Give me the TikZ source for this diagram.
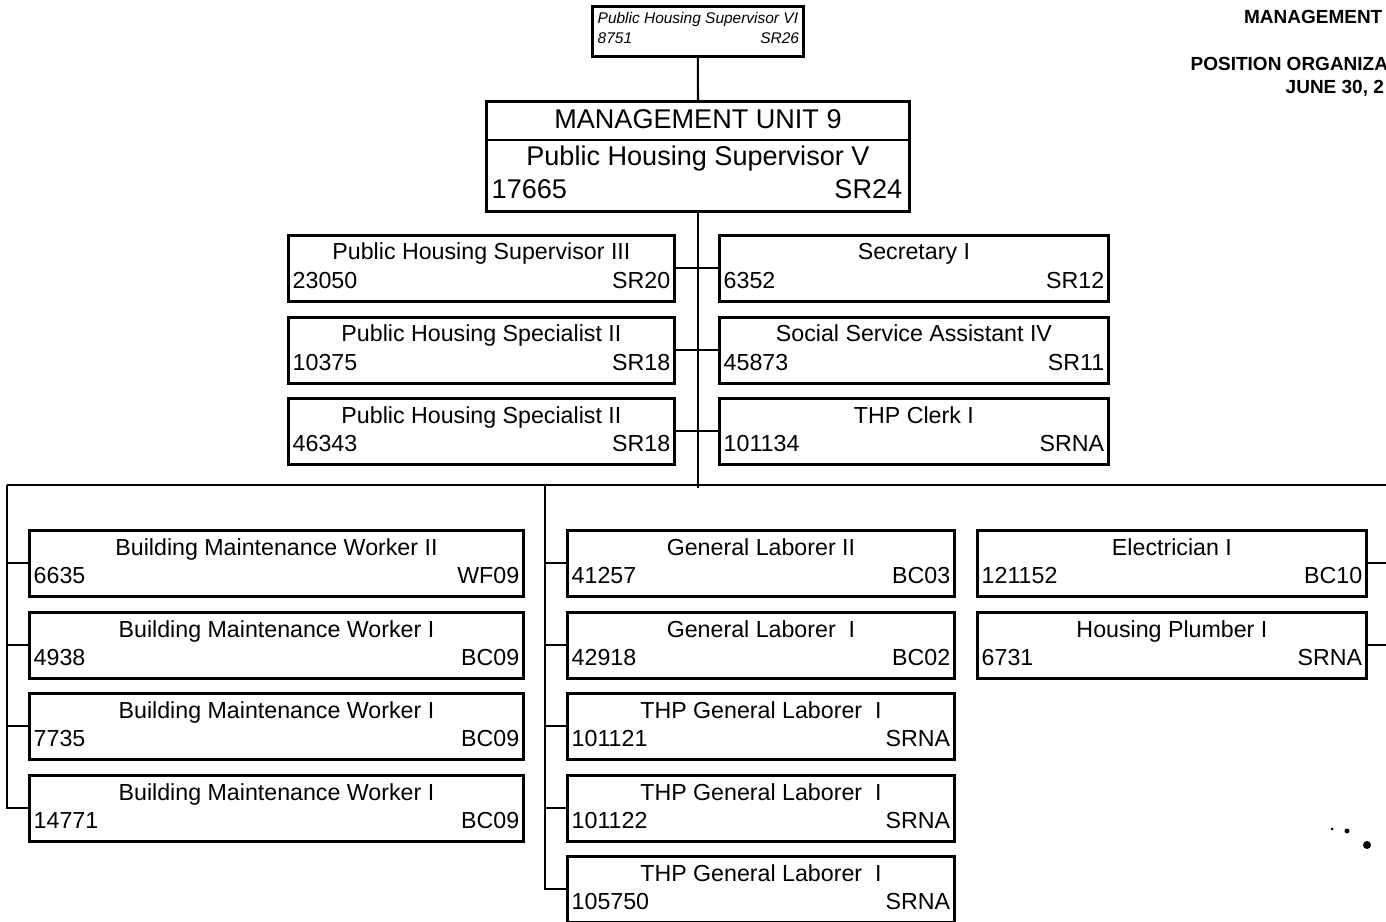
\documentclass[tikz,border=0pt]{standalone}
\usepackage{fontspec}
\setmainfont{Liberation Sans}
\usetikzlibrary{calc,positioning}

% one position box: style, name, top left corner, title, number, grade
\newcommand{\jobbox}[6]{%
  \node[#1] (#2) at (#3) {};
  \node[jobtext, anchor=base]      (#2-t) at ($(#2.north)+(0,26)$)       {#4};
  \node[jobtext, anchor=base west] (#2-n) at ($(#2.south west)+(5,-14)$) {#5};
  \node[jobtext, anchor=base east] (#2-g) at ($(#2.south east)+(-5,-14)$) {#6};
}

\begin{document}
\begin{tikzpicture}[x=0.01cm, y=-0.01cm,
    posbox/.style   = {draw, line width=0.75pt, inner sep=0pt, anchor=north west, minimum height=0.66cm},
    jobtext/.style  = {inner sep=0pt, font=\fontsize{6.6}{8}\selectfont},
    unittext/.style = {inner sep=0pt, font=\fontsize{7.7}{9}\selectfont},
    toptext/.style  = {inner sep=0pt, font=\fontsize{4.4}{5}\selectfont\itshape},
    headtext/.style = {inner sep=0pt, font=\fontsize{5.4}{6.5}\selectfont\bfseries},
    link/.style     = {line width=0.6pt},
    leftcol/.style  = {posbox, minimum width=3.86cm},
    rightcol/.style = {posbox, minimum width=3.89cm},
    bmwbox/.style   = {posbox, minimum width=4.94cm},
    glbox/.style    = {posbox, minimum width=3.87cm},
  ]
  \path[use as bounding box, fill=white] (0,0) rectangle (1386,922);

  % heading, right hand corner
  \node[headtext, anchor=base east] (hd1) at (1383,24) {MANAGEMENT};
  \node[headtext, anchor=base west] (hd2) at (1190,71) {POSITION ORGANIZA};
  \node[headtext, anchor=base west] (hd3) at (1285,94) {JUNE 30, 2};

  % supervisor above the unit
  \node[posbox, minimum width=2.11cm, minimum height=0.50cm] (sup6) at (591,5) {};
  \node[toptext, anchor=base]      (sup6-t) at ($(sup6.north)+(0,19)$)       {Public Housing Supervisor VI};
  \node[toptext, anchor=base west] (sup6-n) at ($(sup6.south west)+(6,-14)$) {8751};
  \node[toptext, anchor=base east] (sup6-g) at ($(sup6.south east)+(-5,-14)$) {SR26};

  % unit head
  \node[posbox, minimum width=4.23cm, minimum height=1.10cm] (mgmt) at (485,100) {};
  \draw[line width=0.75pt] ($(mgmt.north west)+(0,40)$) -- ($(mgmt.north east)+(0,40)$);
  \node[unittext, anchor=base]      (mgmt-u) at ($(mgmt.north)+(0,29)$)       {MANAGEMENT UNIT 9};
  \node[unittext, anchor=base]      (mgmt-t) at ($(mgmt.north)+(0,66)$)       {Public Housing Supervisor V};
  \node[unittext, anchor=base west] (mgmt-n) at ($(mgmt.south west)+(6,-14)$) {17665};
  \node[unittext, anchor=base east] (mgmt-g) at ($(mgmt.south east)+(-8,-14)$) {SR24};

  % office staff
  \jobbox{leftcol}{psup3}{287,234}{Public Housing Supervisor III}{23050}{SR20}
  \jobbox{leftcol}{phs2a}{287,316}{Public Housing Specialist II}{10375}{SR18}
  \jobbox{leftcol}{phs2b}{287,397}{Public Housing Specialist II}{46343}{SR18}
  \jobbox{rightcol}{sec1}{718,234}{Secretary I}{6352}{SR12}
  \jobbox{rightcol}{ssa4}{718,316}{Social Service Assistant IV}{45873}{SR11}
  \jobbox{rightcol}{clk1}{718,397}{THP Clerk I}{101134}{SRNA}

  % maintenance crew
  \jobbox{bmwbox}{bmw2}{28,529}{Building Maintenance Worker II}{6635}{WF09}
  \jobbox{bmwbox}{bmw1a}{28,611}{Building Maintenance Worker I}{4938}{BC09}
  \jobbox{bmwbox}{bmw1b}{28,692}{Building Maintenance Worker I}{7735}{BC09}
  \jobbox{bmwbox}{bmw1c}{28,774}{Building Maintenance Worker I}{14771}{BC09}

  \jobbox{glbox}{gl2}{566,529}{General Laborer II}{41257}{BC03}
  \jobbox{glbox}{gl1}{566,611}{General Laborer~ I}{42918}{BC02}
  \jobbox{glbox}{thp1}{566,692}{THP General Laborer~ I}{101121}{SRNA}
  \jobbox{glbox}{thp2}{566,774}{THP General Laborer~ I}{101122}{SRNA}
  \jobbox{glbox}{thp3}{566,855}{THP General Laborer~ I}{105750}{SRNA}

  \jobbox{rightcol}{elec}{976,529}{Electrician I}{121152}{BC10}
  \jobbox{rightcol}{plmb}{976,611}{Housing Plumber I}{6731}{SRNA}

  % lines
  \coordinate (hub)  at ($(mgmt.south)+(0,275)$);
  \coordinate (busW) at (7,485);
  \coordinate (busM) at (545,485);
  \coordinate (busE) at (1396,485);

  \draw[link] (sup6.south) -- (mgmt.north);
  \draw[link] (mgmt.south) -- (hub);
  \draw[link] (psup3.east) -- (sec1.west);
  \draw[link] (phs2a.east) -- (ssa4.west);
  \draw[link] (phs2b.east) -- (clk1.west);
  \draw[link] (busW) -- (busE);

  \draw[link] (busW) |- (bmw1c.west);
  \foreach \b in {bmw2,bmw1a,bmw1b}
    \draw[link] (\b.west) -- (\b.west -| busW);

  \draw[link] (busM) |- (thp3.west);
  \foreach \b in {gl2,gl1,thp1,thp2}
    \draw[link] (\b.west) -- (\b.west -| busM);

  \draw[link] (busE) |- (plmb.east);
  \draw[link] (elec.east) -- (elec.east -| busE);

  % specks lower right
  \fill (1332,829) circle (1.5);
  \fill (1347,831) circle (2.5);
  \fill (1367,845) circle (4);
\end{tikzpicture}
\end{document}
